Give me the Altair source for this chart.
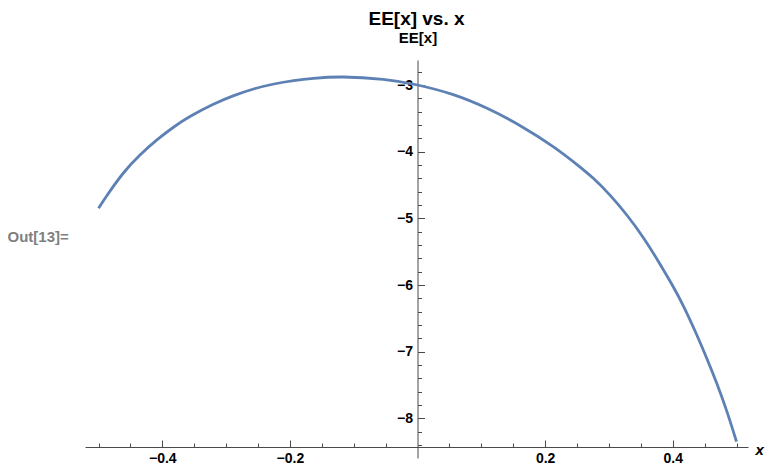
import altair as alt
import pandas as pd

# ---- data ----
x_vals = [-0.5, -0.487, -0.461, -0.435, -0.408, -0.382, -0.356, -0.320, -0.288, -0.257,
          -0.225, -0.194, -0.163, -0.117, -0.054, 0.0, 0.056, 0.109, 0.161, 0.212,
          0.2495, 0.2755, 0.302, 0.328, 0.354, 0.379, 0.401, 0.417, 0.435, 0.453,
          0.469, 0.485, 0.5]
ee_vals = [-4.85, -4.66, -4.32, -4.05, -3.82, -3.63, -3.47, -3.29, -3.16, -3.06,
           -2.985, -2.935, -2.90, -2.88, -2.915, -3.0, -3.145, -3.35, -3.61, -3.92,
           -4.19, -4.40, -4.655, -4.95, -5.29, -5.67, -6.03, -6.32, -6.69, -7.09,
           -7.475, -7.90, -8.35]

x_major = [-0.4, -0.2, 0.2, 0.4]
x_minor = [-0.5, -0.45, -0.35, -0.3, -0.25, -0.15, -0.1, -0.05,
           0.05, 0.1, 0.15, 0.25, 0.3, 0.35, 0.45, 0.5]
y_major = [-3, -4, -5, -6, -7, -8]
y_minor = [-2.8, -3.2, -3.4, -3.6, -3.8, -4.2, -4.4, -4.6, -4.8, -5.2, -5.4, -5.6, -5.8,
           -6.2, -6.4, -6.6, -6.8, -7.2, -7.4, -7.6, -7.8, -8.2, -8.4]

title_text = "EE[x] vs. x"
y_title = "EE[x]"
x_title = "x"
out_label = "Out[13]="

# ---- layout ----
W, H = 663, 398
x_dom = [-0.5212, 0.5180]
y_dom = [-8.595, -2.625]
x_axis_at = -8.43  # y value where the horizontal axis crosses

x0_px = (0 - x_dom[0]) / (x_dom[1] - x_dom[0]) * W
xa_px = (y_dom[1] - x_axis_at) / (y_dom[1] - y_dom[0]) * H

FONT = "Liberation Sans"
AX = "#4a4a4a"
LINE = "#5E81B5"

df = pd.DataFrame({"x": x_vals, "EE": ee_vals})
xs = alt.Scale(domain=x_dom, nice=False, zero=False)
ys = alt.Scale(domain=y_dom, nice=False, zero=False)

line = alt.Chart(df).mark_line(color=LINE, strokeWidth=2.8, interpolate="natural").encode(
    x=alt.X("x:Q", scale=xs, axis=alt.Axis(
        orient="bottom", offset=-(H - xa_px), values=x_major, format=".1f",
        ticks=False, grid=False, domainColor=AX, domainWidth=1,
        labelFont=FONT, labelFontSize=14, labelFontWeight="bold", labelColor="black",
        labelPadding=4,
        title=x_title, titleFont=FONT, titleFontSize=15, titleFontWeight="bold",
        titleFontStyle="italic", titleColor="black",
        titleX=W + 7, titleY=2, titleAlign="left", titleBaseline="middle")),
    y=alt.Y("EE:Q", scale=ys, axis=alt.Axis(
        orient="left", offset=-x0_px, values=y_major, format="d",
        ticks=False, grid=False, domainColor=AX, domainWidth=1,
        labelFont=FONT, labelFontSize=14, labelFontWeight="bold", labelColor="black",
        labelPadding=5,
        title=y_title, titleFont=FONT, titleFontSize=15, titleFontWeight="bold",
        titleColor="black", titleAngle=0, titleX=0, titleY=-23,
        titleAlign="center", titleBaseline="middle")),
)

major_ticks = alt.Chart(df).mark_line(opacity=0).encode(
    x=alt.X("x:Q", scale=xs, axis=alt.Axis(
        orient="top", offset=-xa_px, values=x_major, labels=False, domain=False,
        grid=False, tickSize=7, tickColor=AX, tickWidth=1, title=None)),
    y=alt.Y("EE:Q", scale=ys, axis=alt.Axis(
        orient="right", offset=x0_px - W, values=y_major, labels=False, domain=False,
        grid=False, tickSize=7, tickColor=AX, tickWidth=1, title=None)),
)

minor_ticks = alt.Chart(df).mark_line(opacity=0).encode(
    x=alt.X("x:Q", scale=xs, axis=alt.Axis(
        orient="top", offset=-xa_px, values=x_minor, labels=False, domain=False,
        grid=False, tickSize=4, tickColor=AX, tickWidth=1, title=None)),
    y=alt.Y("EE:Q", scale=ys, axis=alt.Axis(
        orient="right", offset=x0_px - W, values=y_minor, labels=False, domain=False,
        grid=False, tickSize=4, tickColor=AX, tickWidth=1, title=None)),
)

out_layer = alt.Chart(df).mark_line(opacity=0).encode(
    x=alt.X("x:Q", scale=xs, axis=None),
    y=alt.Y("EE:Q", scale=ys, axis=alt.Axis(
        orient="left", labels=False, ticks=False, domain=False, grid=False,
        title=out_label, titleFont=FONT, titleFontSize=15, titleFontWeight="bold",
        titleColor="#7f7f7f", titleAngle=0, titleX=7 - 85, titleY=236 - 60,
        titleAlign="left", titleBaseline="middle")),
)

chart = alt.layer(line, major_ticks, minor_ticks, out_layer).resolve_axis(
    x="independent", y="independent"
).properties(
    width=W, height=H,
    autosize=alt.AutoSizeParams(type="none"),
    padding={"left": 77, "top": 52, "right": 17, "bottom": 8},
    title=alt.TitleParams(title_text, font=FONT, fontSize=19, fontWeight="bold",
                          color="black", anchor="middle", frame="group", offset=1),
).configure_view(stroke=None)

chart.save("out.html", embed_options={"renderer": "svg", "actions": False})
